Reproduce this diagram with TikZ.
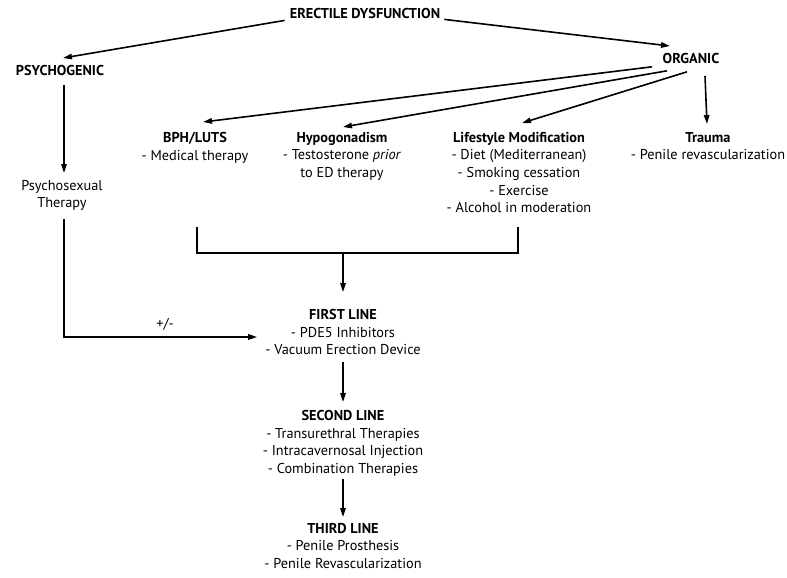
\documentclass[tikz,border=0pt]{standalone}
\usepackage{fontspec}
\setmainfont{PT Sans}
\usetikzlibrary{arrows.meta}
\begin{document}
\begin{tikzpicture}[x=1pt,y=-1pt,
  txt/.style={inner sep=0pt,anchor=north,align=center,font=\fontsize{14.3}{17.6}\selectfont},
  arr/.style={line width=1.6pt,-{Triangle[length=9pt,width=5.5pt]}},
  ln/.style={line width=1.6pt}]
\useasboundingbox (0,0) rectangle (787,578);
\fill[white] (0,0) rectangle (787,578);
% nodes
\node[txt] (ed) at (365,8) {\textbf{ERECTILE DYSFUNCTION}};
\node[txt] (psy) at (60,65) {\textbf{PSYCHOGENIC}};
\node[txt] (org) at (691,53) {\textbf{ORGANIC}};
\node[txt] (bph) at (195,132) {\textbf{BPH/LUTS}\\- Medical therapy};
\node[txt] (hypo) at (342,132) {\textbf{Hypogonadism}\\- Testosterone \textit{prior}\\to ED therapy};
\node[txt] (life) at (519,132) {\textbf{Lifestyle Modification}\\- Diet (Mediterranean)\\- Smoking cessation\\- Exercise\\- Alcohol in moderation};
\node[txt] (trauma) at (708,132) {\textbf{Trauma}\\- Penile revascularization};
\node[txt] (psych) at (62,180) {Psychosexual\\Therapy};
\node[txt] (fl) at (343,309) {\textbf{FIRST LINE}\\- PDE5 Inhibitors\\- Vacuum Erection Device};
\node[txt] (sl) at (343,410) {\textbf{SECOND LINE}\\- Transurethral Therapies\\- Intracavernosal Injection\\- Combination Therapies};
\node[txt] (tl) at (343,523) {\textbf{THIRD LINE}\\- Penile Prosthesis\\- Penile Revascularization};
\node[txt] (pm) at (165,318) {+/-};
% connectors
\draw[arr] ([shift={(-5,2)}]ed.base west) -- ([shift={(3,-7)}]psy.north);
\draw[arr] ([shift={(4,1)}]ed.base east) -- ([shift={(-21,-7)}]org.north);
\draw[arr] ([shift={(4,9)}]psy.south) -- ([shift={(2,-7)}]psych.north);
\draw[arr] ([shift={(-39,3)}]org.south) -- ([shift={(8,-10)}]bph.north);
\draw[arr] ([shift={(-24,7)}]org.south) -- ([shift={(1,-5)}]hypo.north);
\draw[arr] ([shift={(-4,8)}]org.south) -- ([shift={(3,-9)}]life.north);
\draw[arr] ([shift={(14,12)}]org.south) -- ([shift={(-1,-8)}]trauma.north);
\draw[arr] ([shift={(2,8)}]psych.south) |- ([shift={(-8,28)}]fl.north west);
% bracket
\coordinate (bl) at (bph.south |- life.south);
\coordinate (br) at (life.south);
\coordinate (bkb) at ([shift={(0,40)}]br);
\draw[ln] ([shift={(2,14)}]bl) -- ([shift={(2,40)}]bl) -- ([shift={(-1,40)}]br) -- ([shift={(-1,14)}]br);
\draw[arr] (fl.north |- bkb) -- ([shift={(0,-17)}]fl.north);
\draw[arr] ([shift={(0,7)}]fl.south) -- ([shift={(0,-8)}]sl.north);
\draw[arr] ([shift={(0,3)}]sl.south) -- ([shift={(0,-6)}]tl.north);
\end{tikzpicture}
\end{document}
